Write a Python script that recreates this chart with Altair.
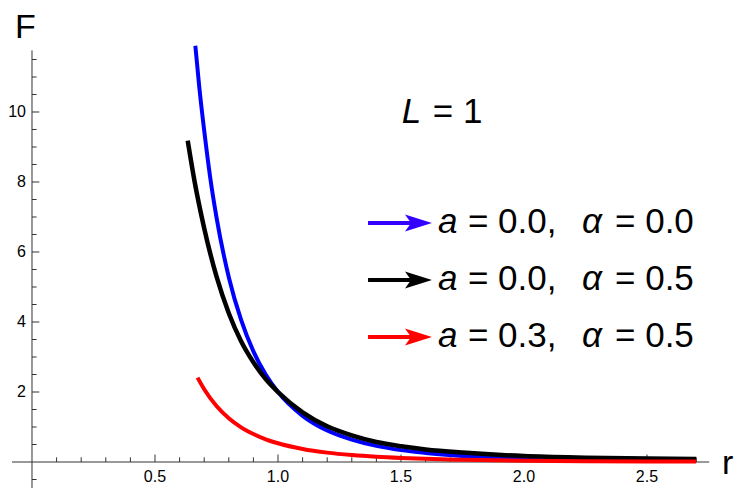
import altair as alt
import pandas as pd

# ---- data ----
blue_r = [0.664, 0.68, 0.70, 0.725, 0.75, 0.80, 0.85, 0.90, 0.95, 1.0, 1.1, 1.2, 1.3, 1.4, 1.5,
          1.6, 1.75, 2.0, 2.25, 2.5, 2.7]
blue_F = [11.89, 10.71, 9.47, 8.10, 6.99, 5.28, 4.06, 3.16, 2.50, 2.0, 1.32, 0.90, 0.64, 0.46, 0.34,
          0.26, 0.175, 0.10, 0.06, 0.037, 0.027]

black_r = [0.633, 0.66, 0.70, 0.75, 0.80, 0.85, 0.90, 0.95, 1.0, 1.1, 1.2, 1.3, 1.4, 1.5, 1.6,
           1.75, 2.0, 2.25, 2.5, 2.7]
black_F = [9.18, 8.05, 6.68, 5.30, 4.25, 3.45, 2.85, 2.37, 2.0, 1.42, 1.02, 0.76, 0.57, 0.45, 0.36,
           0.27, 0.17, 0.125, 0.10, 0.085]

red_r = [0.673, 0.70, 0.75, 0.80, 0.85, 0.90, 0.95, 1.0, 1.1, 1.2, 1.3, 1.4, 1.5, 1.6, 1.75,
         2.0, 2.25, 2.5, 2.7]
red_F = [2.41, 2.08, 1.60, 1.25, 0.99, 0.80, 0.65, 0.536, 0.373, 0.268, 0.198, 0.149, 0.115, 0.090, 0.064,
         0.0385, 0.0246, 0.0165, 0.0123]

series_names = ["s1", "s2", "s3"]
series_colors = ["#0000ff", "#000000", "#ff0000"]
series_widths = [4, 4.5, 4]
arrow_colors = ["#3300ff", "#000000", "#ff0000"]
a_values = ["0.0", "0.0", "0.3"]
alpha_values = ["0.0", "0.5", "0.5"]

x_major = [0.5, 1.0, 1.5, 2.0, 2.5]
x_minor = [0.1, 0.2, 0.3, 0.4, 0.6, 0.7, 0.8, 0.9, 1.1, 1.2, 1.3, 1.4, 1.6, 1.7, 1.8, 1.9,
           2.1, 2.2, 2.3, 2.4, 2.6, 2.7]
y_major = [2, 4, 6, 8, 10]
y_minor = [-0.5, 0.5, 1, 1.5, 2.5, 3, 3.5, 4.5, 5, 5.5, 6.5, 7, 7.5, 8.5, 9, 9.5, 10.5, 11, 11.5]
x_labels = ["0.5", "1.0", "1.5", "2.0", "2.5"]
y_labels = ["2", "4", "6", "8", "10"]

FONT = "Liberation Sans"
W, H = 731, 472
xs = alt.Scale(domain=[-0.09756, 2.874], nice=False, zero=False)
ys = alt.Scale(domain=[-0.514, 12.971], nice=False, zero=False)
AXC = "#333333"

# ---- curves ----
rows = []
for k, (rr, ff) in enumerate([(blue_r, blue_F), (black_r, black_F), (red_r, red_F)]):
    for i, (r, f) in enumerate(zip(rr, ff)):
        rows.append({"series": series_names[k], "col": series_colors[k], "r": r, "F": f, "i": i})
curves_df = pd.DataFrame(rows)


def curve(k):
    return alt.Chart(curves_df[curves_df.series == series_names[k]]).mark_line(
        strokeWidth=series_widths[k], interpolate="monotone", strokeCap="butt", color=series_colors[k]
    ).encode(
        x=alt.X("r:Q", scale=xs, axis=None),
        y=alt.Y("F:Q", scale=ys, axis=None),
        order="i:Q",
    )


curves = [curve(0), curve(1), curve(2)]

# ---- axes (drawn through the origin) ----
axes_df = pd.DataFrame([
    {"x": -0.0813, "x2": 2.753, "y": 0.0, "y2": 0.0},
    {"x": 0.0, "x2": 0.0, "y": -0.75, "y2": 11.76},
])
axes = alt.Chart(axes_df).mark_rule(color=AXC, strokeWidth=1).encode(
    x=alt.X("x:Q", scale=xs, axis=None), x2="x2:Q", y=alt.Y("y:Q", scale=ys, axis=None), y2="y2:Q")

xt = pd.DataFrame([{"v": v, "len": 0.214} for v in x_major] + [{"v": v, "len": 0.134} for v in x_minor])
xt["zero"] = 0.0
xticks = alt.Chart(xt).mark_rule(color=AXC, strokeWidth=1).encode(
    x=alt.X("v:Q", scale=xs, axis=None), y=alt.Y("zero:Q", scale=ys, axis=None), y2="len:Q")

yt = pd.DataFrame([{"v": v, "len": 0.0297} for v in y_major] + [{"v": v, "len": 0.0187} for v in y_minor])
yt["zero"] = 0.0
yticks = alt.Chart(yt).mark_rule(color=AXC, strokeWidth=1).encode(
    y=alt.Y("v:Q", scale=ys, axis=None), x=alt.X("zero:Q", scale=xs, axis=None), x2="len:Q")

xl = pd.DataFrame({"v": x_major, "t": x_labels, "yy": [-0.56] * len(x_major)})
xlab = alt.Chart(xl).mark_text(font=FONT, fontSize=16, baseline="alphabetic", align="center", color="#000").encode(
    x=alt.X("v:Q", scale=xs, axis=None), y=alt.Y("yy:Q", scale=ys, axis=None), text="t:N")

yl = pd.DataFrame({"v": y_major, "t": y_labels, "xx": [-0.0244] * len(y_major)})
ylab = alt.Chart(yl).mark_text(font=FONT, fontSize=16, baseline="middle", align="right", color="#000").encode(
    x=alt.X("xx:Q", scale=xs, axis=None), y=alt.Y("v:Q", scale=ys, axis=None), text="t:N")

titles_df = pd.DataFrame([
    {"x": -0.069, "y": 12.114, "t": "F"},
    {"x": 2.805, "y": -0.343, "t": "r"},
])
titles = alt.Chart(titles_df).mark_text(font=FONT, fontSize=34, align="left", baseline="alphabetic", color="#000").encode(
    x=alt.X("x:Q", scale=xs, axis=None), y=alt.Y("y:Q", scale=ys, axis=None), text="t:N")

# ---- annotation L = 1 ----
ann_it_df = pd.DataFrame([{"x": 1.503, "y": 9.694, "t": "L"}])
ann_n_df = pd.DataFrame([{"x": 1.629, "y": 9.694, "t": "= 1"}])
ann_it = alt.Chart(ann_it_df).mark_text(
    font=FONT, fontSize=35, fontStyle="italic", align="left", baseline="alphabetic", color="#000").encode(
    x=alt.X("x:Q", scale=xs, axis=None), y=alt.Y("y:Q", scale=ys, axis=None), text="t:N")
ann_n = alt.Chart(ann_n_df).mark_text(
    font=FONT, fontSize=35, align="left", baseline="alphabetic", color="#000").encode(
    x=alt.X("x:Q", scale=xs, axis=None), y=alt.Y("y:Q", scale=ys, axis=None), text="t:N")

# ---- legend with arrows ----
arrow_y = [6.829, 5.20, 3.571]
text_y = [6.534, 4.914, 3.294]
leg = pd.DataFrame({
    "series": series_names,
    "acol": arrow_colors,
    "ay": arrow_y,
    "ty": text_y,
    "x0": [1.366] * 3,
    "x1": [1.545] * 3,
    "xh": [1.571] * 3,
    "a_x": [1.650] * 3,
    "eq1_x": [1.772] * 3,
    "al_x": [2.236] * 3,
    "eq2_x": [2.370] * 3,
    "a": ["a"] * 3,
    "al": ["α"] * 3,
    "t1": ["= " + v + "," for v in a_values],
    "t2": ["= " + v for v in alpha_values],
})
acol = alt.Color("acol:N", scale=None)
shaft = alt.Chart(leg).mark_rule(strokeWidth=4).encode(
    x=alt.X("x0:Q", scale=xs, axis=None), x2="x1:Q", y=alt.Y("ay:Q", scale=ys, axis=None), color=acol)
head = alt.Chart(leg).mark_point(
    shape="M1,0 L-1,-0.63 L-0.55,0 L-1,0.63 Z", size=729, filled=True, opacity=1).encode(
    x=alt.X("xh:Q", scale=xs, axis=None), y=alt.Y("ay:Q", scale=ys, axis=None), color=acol)


def txt(col_x, col_t, italic):
    kw = dict(font=FONT, fontSize=35, align="left", baseline="alphabetic", color="#000")
    if italic:
        kw["fontStyle"] = "italic"
    return alt.Chart(leg).mark_text(**kw).encode(
        x=alt.X(col_x + ":Q", scale=xs, axis=None), y=alt.Y("ty:Q", scale=ys, axis=None), text=col_t + ":N")


legend_layers = [shaft, head, txt("a_x", "a", True), txt("eq1_x", "t1", False),
                 txt("al_x", "al", True), txt("eq2_x", "t2", False)]

chart = alt.layer(
    axes, xticks, yticks, xlab, ylab, titles, *curves, ann_it, ann_n, *legend_layers
).properties(
    width=W, height=H,
    background="white",
    autosize=alt.AutoSizeParams(type="none"),
    padding={"left": 0, "top": 0, "right": 0, "bottom": 8},
).configure_view(stroke=None)

chart.save("out.html", embed_options={"renderer": "svg", "actions": False})
